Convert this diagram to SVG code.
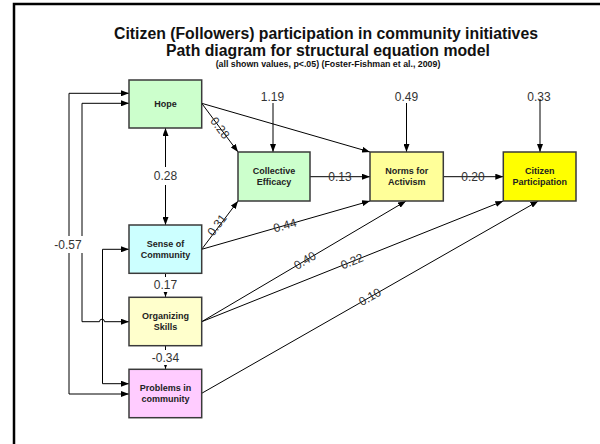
<svg xmlns="http://www.w3.org/2000/svg" width="600" height="444" viewBox="0 0 600 444">
  <style>
    .frame { fill: none; stroke: #000; stroke-width: 2.5; }
    .title { font-family: "Liberation Sans", Arial, sans-serif; font-weight: bold; fill: #111; text-anchor: middle; }
    .node rect { stroke: #3a3a3a; stroke-width: 1.5; }
    .node text { font-family: "Liberation Sans", Arial, sans-serif; font-weight: bold; font-size: 9px; fill: #222; text-anchor: middle; }
    .edge { fill: none; stroke: #000; stroke-width: 1; }
    .lbl { font-family: "Liberation Sans", Arial, sans-serif; font-size: 12px; fill: #333; text-anchor: middle; dominant-baseline: central; }
    .bg { fill: #fff; }
  </style>
  <defs>
    <marker id="arrow" markerUnits="userSpaceOnUse" markerWidth="8" markerHeight="6" refX="8" refY="3" orient="auto-start-reverse">
      <path d="M0,0 L8,3 L0,6 z" fill="#000"/>
    </marker>
  </defs>

  <!-- slide frame -->
  <rect class="frame" x="14" y="4" width="640" height="460"/>

  <!-- titles -->
  <text class="title" x="326" y="39" font-size="15.8">Citizen (Followers) participation in community initiatives</text>
  <text class="title" x="328" y="56" font-size="15.8">Path diagram for structural equation model</text>
  <text class="title" x="328" y="67" font-size="8.8">(all shown values, p&lt;.05) (Foster-Fishman et al., 2009)</text>

  <!-- connectors -->
  <g id="connectors">
    <!-- correlations on the left -->
    <path class="edge" d="M129,93.3 H69 V394 H129" marker-start="url(#arrow)" marker-end="url(#arrow)"/>
    <path class="edge" d="M129,103.3 H82 V321.7 H99.5 A2.5,2.5 0 0 1 104.5,321.7 H129" marker-start="url(#arrow)" marker-end="url(#arrow)"/>
    <path class="edge" d="M129,249.3 H102.5 V383.7 H129" marker-start="url(#arrow)" marker-end="url(#arrow)"/>
    <rect class="bg" x="54" y="236" width="31" height="17"/>
    <text class="lbl" x="68" y="245">-0.57</text>

    <!-- Hope <-> Sense of Community -->
    <line class="edge" x1="165.5" y1="128" x2="165.5" y2="225" marker-start="url(#arrow)" marker-end="url(#arrow)"/>
    <rect class="bg" x="152" y="167" width="27" height="18"/>
    <text class="lbl" x="165.5" y="176">0.28</text>

    <!-- Sense of Community -> Organizing Skills -->
    <line class="edge" x1="165.5" y1="273" x2="165.5" y2="297" marker-end="url(#arrow)"/>
    <rect class="bg" x="152" y="277" width="27" height="15"/>
    <text class="lbl" x="165.5" y="285">0.17</text>

    <!-- Organizing Skills -> Problems in community -->
    <line class="edge" x1="165.5" y1="345.7" x2="165.5" y2="369" marker-end="url(#arrow)"/>
    <rect class="bg" x="148" y="350" width="35" height="15"/>
    <text class="lbl" x="165.5" y="358">-0.34</text>

    <!-- error terms -->
    <text class="lbl" x="272.5" y="96.5">1.19</text>
    <line class="edge" x1="273" y1="103" x2="273" y2="152" marker-end="url(#arrow)"/>
    <text class="lbl" x="406.5" y="96.5">0.49</text>
    <line class="edge" x1="406.5" y1="103" x2="406.5" y2="152" marker-end="url(#arrow)"/>
    <text class="lbl" x="539" y="96.5">0.33</text>
    <line class="edge" x1="540" y1="99" x2="540" y2="152" marker-end="url(#arrow)"/>

    <!-- Hope -> Collective Efficacy -->
    <line class="edge" x1="201.7" y1="103.3" x2="238" y2="152" marker-end="url(#arrow)"/>
    <text class="lbl" x="220" y="128" transform="rotate(53.6 220 128)">0.28</text>
    <!-- Hope -> Norms -->
    <line class="edge" x1="201.7" y1="103.3" x2="370" y2="152" marker-end="url(#arrow)"/>

    <!-- Sense of Community -> Collective Efficacy / Norms -->
    <line class="edge" x1="201.7" y1="249.3" x2="238" y2="201" marker-end="url(#arrow)"/>
    <text class="lbl" x="217" y="225" transform="rotate(-53 217 225)">0.31</text>
    <line class="edge" x1="201.7" y1="249.3" x2="370" y2="201" marker-end="url(#arrow)"/>
    <text class="lbl" x="285" y="225.5" transform="rotate(-16 285 225.5)">0.44</text>

    <!-- Collective Efficacy -> Norms -> Citizen Participation -->
    <line class="edge" x1="310" y1="176.7" x2="370" y2="176.7" marker-end="url(#arrow)"/>
    <text class="lbl" x="340" y="176.7">0.13</text>
    <line class="edge" x1="443.3" y1="176.7" x2="503.3" y2="176.7" marker-end="url(#arrow)"/>
    <text class="lbl" x="473" y="176.7">0.20</text>

    <!-- Organizing Skills -> Norms / Citizen Participation -->
    <line class="edge" x1="201.7" y1="321.7" x2="406" y2="201" marker-end="url(#arrow)"/>
    <text class="lbl" x="305" y="260.5" transform="rotate(-30.6 305 260.5)">0.40</text>
    <line class="edge" x1="201.7" y1="321.7" x2="503.3" y2="201" marker-end="url(#arrow)"/>
    <text class="lbl" x="352" y="261.5" transform="rotate(-21.8 352 261.5)">0.22</text>

    <!-- Problems in community -> Citizen Participation -->
    <line class="edge" x1="201.7" y1="393.3" x2="538.3" y2="201" marker-end="url(#arrow)"/>
    <text class="lbl" x="370" y="297" transform="rotate(-29.7 370 297)">0.10</text>
  </g>

  <!-- nodes -->
  <g id="hope" class="node">
    <rect x="129" y="80" width="72.7" height="48" fill="#ccffcc"/>
    <text x="165.4" y="107">Hope</text>
  </g>
  <g id="collective-efficacy" class="node">
    <rect x="238" y="152" width="72" height="49" fill="#ccffcc"/>
    <text x="274" y="174">Collective</text>
    <text x="274" y="185">Efficacy</text>
  </g>
  <g id="norms" class="node">
    <rect x="370" y="152" width="73.3" height="49" fill="#ffff99"/>
    <text x="406.7" y="174">Norms for</text>
    <text x="406.7" y="185">Activism</text>
  </g>
  <g id="citizen-participation" class="node">
    <rect x="503.3" y="152" width="72.7" height="49" fill="#ffff00"/>
    <text x="539.7" y="174">Citizen</text>
    <text x="539.7" y="185">Participation</text>
  </g>
  <g id="sense-of-community" class="node">
    <rect x="129" y="225" width="72.7" height="48.3" fill="#ccffff"/>
    <text x="165.4" y="246.5">Sense of</text>
    <text x="165.4" y="258">Community</text>
  </g>
  <g id="organizing-skills" class="node">
    <rect x="129" y="297.3" width="72.7" height="48.4" fill="#ffffcc"/>
    <text x="165.4" y="319">Organizing</text>
    <text x="165.4" y="330">Skills</text>
  </g>
  <g id="problems" class="node">
    <rect x="129" y="369.3" width="72.7" height="48.4" fill="#ffccff"/>
    <text x="165.4" y="391">Problems in</text>
    <text x="165.4" y="402">community</text>
  </g>
</svg>
